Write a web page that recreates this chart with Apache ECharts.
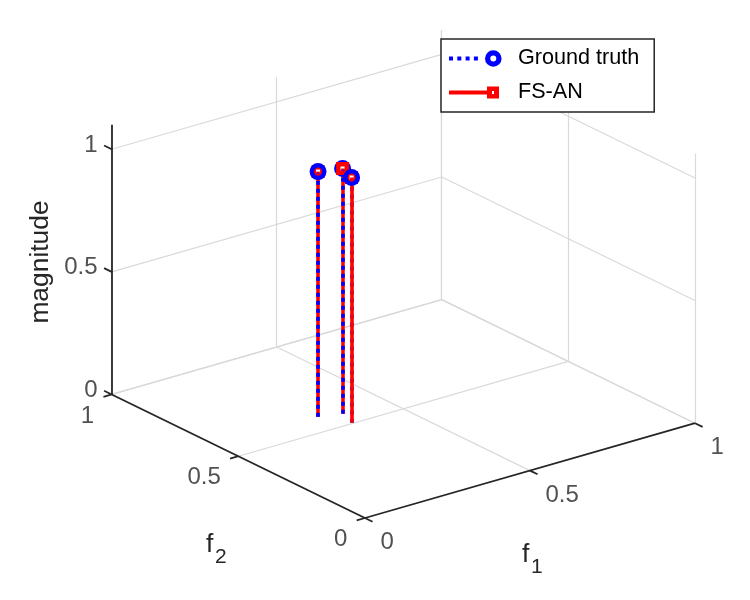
<!DOCTYPE html>
<html><head><meta charset="utf-8">
<script src="https://cdn.jsdelivr.net/npm/echarts@6/dist/echarts.min.js"></script>
<style>html,body{margin:0;padding:0;background:#fff}#c{width:750px;height:600px}</style>
</head><body><div id="c"></div>
<script>
// ---------------- data ----------------
const f1Range = [0, 1];
const f2Range = [0, 1];
const zRange = [0, 1.1];
const f1Ticks = [0, 0.5, 1];
const f2Ticks = [0, 0.5, 1];
const zTicks = [0, 0.5, 1];
const f1TickLabels = ['0', '0.5', '1'];
const f2TickLabels = ['0', '0.5', '1'];
const zTickLabels = ['0', '0.5', '1'];

const gtF1 = [0.306, 0.365, 0.347];
const gtF2 = [0.584, 0.564, 0.505];
const gtMag = [1, 1, 1];
const fsF1 = [0.306, 0.365, 0.347];
const fsF2 = [0.584, 0.564, 0.505];
const fsMag = [1, 1, 1];

// which series is rendered on top at each stem / marker (depth fighting look)
const stemOnTop = ['gt', 'gt', 'fs'];
const markerOnTop = ['gt', 'fs', 'gt'];

// ---------------- view / projection ----------------
const AZ = -37.5 * Math.PI / 180, EL = 30 * Math.PI / 180;
function norm(f1, f2, z) {
  return [(f1 - f1Range[0]) / (f1Range[1] - f1Range[0]),
          (f2 - f2Range[0]) / (f2Range[1] - f2Range[0]),
          (z - zRange[0]) / (zRange[1] - zRange[0])];
}
function project(f1, f2, z) {
  const [X, Y, Z] = norm(f1, f2, z);
  const u = Math.cos(AZ) * X + Math.sin(AZ) * Y;
  const v = -Math.sin(EL) * Math.sin(AZ) * X + Math.sin(EL) * Math.cos(AZ) * Y + Math.cos(EL) * Z;
  return [u, v];
}
function depth(f1, f2, z) { // larger = nearer to viewer
  const [X, Y, Z] = norm(f1, f2, z);
  return Math.sin(AZ) * Math.cos(EL) * X - Math.cos(AZ) * Math.cos(EL) * Y + Math.sin(EL) * Z;
}
let uMin = Infinity, uMax = -Infinity, vMin = Infinity, vMax = -Infinity;
[f1Range[0], f1Range[1]].forEach(a => [f2Range[0], f2Range[1]].forEach(b => [zRange[0], zRange[1]].forEach(c => {
  const [u, v] = project(a, b, c);
  uMin = Math.min(uMin, u); uMax = Math.max(uMax, u); vMin = Math.min(vMin, v); vMax = Math.max(vMax, v);
})));

const seg = (a, b) => ({ coords: [project(...a), project(...b)] });
const [x0, x1] = f1Range, [y0, y1] = f2Range, [z0, z1] = zRange;
const TL_X = 0.025, TL_Y = 0.03;

// grid lines
const gridSegs = [];
f1Ticks.forEach(t => { gridSegs.push(seg([t, y0, z0], [t, y1, z0])); gridSegs.push(seg([t, y1, z0], [t, y1, z1])); });
f2Ticks.forEach(t => { gridSegs.push(seg([x0, t, z0], [x1, t, z0])); gridSegs.push(seg([x1, t, z0], [x1, t, z1])); });
zTicks.forEach(t => { gridSegs.push(seg([x0, y1, t], [x1, y1, t])); gridSegs.push(seg([x1, y1, t], [x1, y0, t])); });

// axes + ticks
const axisSegs = [
  seg([x0, y0, z0], [x1, y0, z0]),
  seg([x0, y0, z0], [x0, y1, z0]),
  seg([x0, y1, z0], [x0, y1, z1])
];
f1Ticks.forEach(t => axisSegs.push(seg([t, y0, z0], [t, y0 - TL_Y * (y1 - y0), z0])));
f2Ticks.forEach(t => axisSegs.push(seg([x0, t, z0], [x0 - TL_X * (x1 - x0), t, z0])));
zTicks.forEach(t => axisSegs.push(seg([x0, y1, t], [x0, y1 + TL_Y * (y1 - y0), t])));

const FONT = 'Liberation Sans';
const TXT = '#262626';
function tickLabelSeries(points, labels, align, offset) {
  return {
    type: 'scatter', silent: true, clip: false, symbolSize: 1,
    itemStyle: { color: 'rgba(0,0,0,0)' },
    data: points.map((p, i) => ({ value: p, name: labels[i] })),
    label: { show: true, formatter: '{b}', position: [0, 0], offset: offset, align: align, verticalAlign: 'middle',
      fontFamily: FONT, fontSize: 24, color: TXT },
    z: 5
  };
}

const series = [
  { type: 'lines', coordinateSystem: 'cartesian2d', silent: true, clip: false, data: gridSegs,
    lineStyle: { color: '#d9d9d9', width: 1.2, opacity: 1 }, z: 1 },
  { type: 'lines', coordinateSystem: 'cartesian2d', silent: true, clip: false, data: axisSegs,
    lineStyle: { color: TXT, width: 1.8, opacity: 1 }, z: 2 },
  tickLabelSeries(f1Ticks.map(t => project(t, y0, z0)), f1TickLabels, 'left', [16, 25]),
  tickLabelSeries(f2Ticks.map(t => project(x0, t, z0)), f2TickLabels, 'right', [-17, 22]),
  tickLabelSeries(zTicks.map(t => project(x0, y1, t)), zTickLabels, 'right', [-13.6, -3.7])
];

const sets = {
  gt: { name: 'Ground truth', f1: gtF1, f2: gtF2, mag: gtMag,
    stem: { color: '#0000ff', width: 3.6, type: [4, 4], cap: 'butt', opacity: 1 },
    symbol: 'circle', symbolSize: 12.5,
    itemStyle: { color: 'rgba(0,0,0,0)', borderColor: '#0000ff', borderWidth: 4.5, opacity: 1 } },
  fs: { name: 'FS-AN', f1: fsF1, f2: fsF2, mag: fsMag,
    stem: { color: '#ff0000', width: 3.6, type: 'solid', opacity: 1 },
    symbol: 'rect', symbolSize: 8.5,
    itemStyle: { color: 'rgba(0,0,0,0)', borderColor: '#ff0000', borderWidth: 4.5, opacity: 1 } }
};

// draw points from far to near
const order = gtF1.map((_, i) => i).sort((a, b) => depth(gtF1[a], gtF2[a], 0) - depth(gtF1[b], gtF2[b], 0));
order.forEach(i => {
  const stemSeq = stemOnTop[i] === 'gt' ? ['fs', 'gt'] : ['gt', 'fs'];
  const markSeq = markerOnTop[i] === 'gt' ? ['fs', 'gt'] : ['gt', 'fs'];
  stemSeq.forEach(k => {
    const s = sets[k];
    series.push({ type: 'lines', name: s.name, coordinateSystem: 'cartesian2d', silent: true, clip: false,
      data: [seg([s.f1[i], s.f2[i], 0], [s.f1[i], s.f2[i], s.mag[i]])],
      lineStyle: s.stem, z: 3 });
  });
  markSeq.forEach(k => {
    const s = sets[k];
    series.push({ type: 'scatter', name: s.name, silent: true, clip: false,
      symbol: s.symbol, symbolSize: s.symbolSize, itemStyle: s.itemStyle,
      data: [project(s.f1[i], s.f2[i], s.mag[i])], z: 3 });
  });
});

const BOX = 'M0,0 L0.01,0 L0,0.01 Z M64,17 L63.99,17 L64,16.99 Z ';
const GT_ICON = 'path://' + BOX +
  'M0,6.4 L4,6.4 L4,10.6 L0,10.6 Z M8.3,6.4 L12.3,6.4 L12.3,10.6 L8.3,10.6 Z ' +
  'M16.6,6.4 L20.6,6.4 L20.6,10.6 L16.6,10.6 Z M24.9,6.4 L28.9,6.4 L28.9,10.6 L24.9,10.6 Z ' +
  'M36,8.5 A8.3,8.3 0 1,1 52.6,8.5 A8.3,8.3 0 1,1 36,8.5 Z ' +
  'M41.3,8.5 A3,3 0 1,0 47.3,8.5 A3,3 0 1,0 41.3,8.5 Z';
const FS_ICON = 'path://' + BOX +
  'M0,6.4 L38,6.4 L38,10.6 L0,10.6 Z ' +
  'M38,2.5 L50,2.5 L50,14.5 L38,14.5 Z M43,7 L43,10 L45,10 L45,7 Z';

const chart = echarts.init(document.getElementById('c'), null, { renderer: 'canvas' });
chart.setOption({
  animation: false,
  backgroundColor: '#ffffff',
  grid: { left: 111.7, right: 55, top: 29.9, bottom: 82, containLabel: false },
  xAxis: { type: 'value', min: uMin, max: uMax, show: false },
  yAxis: { type: 'value', min: vMin, max: vMax, show: false },
  legend: {
    orient: 'vertical', left: 441, top: 39, padding: [8.5, 15, 8.5, 8],
    itemWidth: 64, itemHeight: 17, itemGap: 12, symbolKeepAspect: false,
    borderColor: TXT, borderWidth: 1.5, backgroundColor: '#ffffff', borderRadius: 0,
    selectedMode: false,
    textStyle: { fontFamily: FONT, fontSize: 21.6, color: '#000000', lineHeight: 17 },
    data: [
      { name: 'Ground truth', icon: GT_ICON, itemStyle: { color: '#0000ff', borderWidth: 0, opacity: 1 } },
      { name: 'FS-AN', icon: FS_ICON, itemStyle: { color: '#ff0000', borderWidth: 0, opacity: 1 } }
    ]
  },
  graphic: [
    { type: 'text', x: 41, y: 262, rotation: Math.PI / 2, silent: true,
      style: { text: 'magnitude', x: 0, y: 0, align: 'center', verticalAlign: 'middle',
        fontFamily: FONT, fontSize: 26.4, fill: TXT } },
    { type: 'text', x: 522, y: 555, silent: true,
      style: { text: 'f', align: 'left', verticalAlign: 'middle', fontFamily: FONT, fontSize: 26.4, fill: TXT } },
    { type: 'text', x: 531, y: 567, silent: true,
      style: { text: '1', align: 'left', verticalAlign: 'middle', fontFamily: FONT, fontSize: 21, fill: TXT } },
    { type: 'text', x: 206, y: 545, silent: true,
      style: { text: 'f', align: 'left', verticalAlign: 'middle', fontFamily: FONT, fontSize: 26.4, fill: TXT } },
    { type: 'text', x: 215, y: 557, silent: true,
      style: { text: '2', align: 'left', verticalAlign: 'middle', fontFamily: FONT, fontSize: 21, fill: TXT } }
  ],
  series: series
});
</script></body></html>
